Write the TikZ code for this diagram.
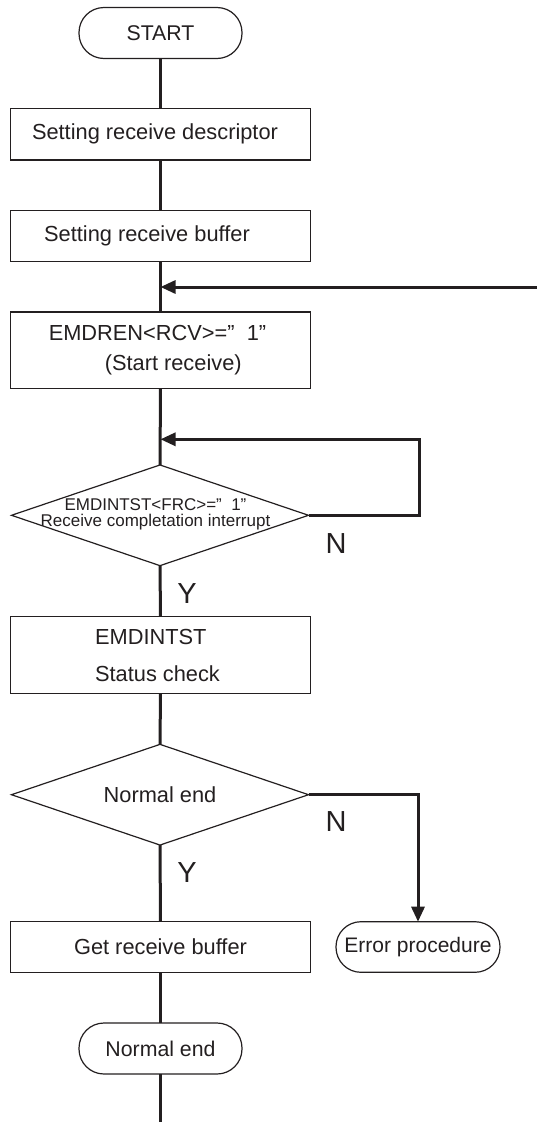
\documentclass[tikz,border=0pt]{standalone}
\usepackage{fontspec}
\setmainfont{Liberation Sans}
\usetikzlibrary{shapes.geometric,arrows.meta}
\definecolor{ink}{RGB}{35,31,32}
\begin{document}
\begin{tikzpicture}[x=1pt,y=-1pt,
  every node/.style={inner sep=0pt,outer sep=0pt},
  txt/.style={font=\fontsize{21.8}{25}\selectfont,text=ink},
  procbox/.style={draw=ink,line width=1.2pt,rectangle,minimum width=299.3pt},
  term/.style={draw=ink,line width=1.2pt,rectangle,rounded corners=25pt,minimum height=51pt,font=\fontsize{21.3}{25}\selectfont,text=ink},
  decide/.style={draw=ink,line width=1.2pt,diamond,minimum width=297pt,minimum height=100.7pt},
  flow/.style={draw=ink,line width=3pt},
  arr/.style={flow,-{Triangle[length=15pt,width=13pt]}},
  yn/.style={font=\fontsize{29}{32}\selectfont,text=ink}
]
\useasboundingbox (0,0) rectangle (537,1122);

\node[term,minimum width=163pt] (start) at (160.5,33) {START};
\node[procbox,minimum height=51.3pt,label={[txt,xshift=-5.5pt]center:Setting receive descriptor}] (b1) at (160.5,134.3) {};
\node[procbox,minimum height=51pt,label={[txt,xshift=-13.5pt]center:Setting receive buffer}] (b2) at (160.5,236.2) {};
\node[procbox,minimum height=76.7pt,label={[txt,align=left,font=\fontsize{21.8}{30}\selectfont,xshift=-3pt]center:EMDREN<RCV>=”\ \ 1”\\\hspace*{56pt}(Start receive)}] (b3) at (160.5,350.3) {};
\node[decide,label={[txt,align=center,font=\fontsize{17}{16}\selectfont,xshift=-4.5pt,yshift=1pt]center:EMDINTST<FRC>=”\ \ 1”\\Receive completation interrupt}] (d1) at (160,515.3) {};
\node[procbox,minimum height=76.6pt,label={[txt,align=left,font=\fontsize{21.8}{37}\selectfont,xshift=-3pt]center:EMDINTST\\Status check}] (b4) at (160.5,655) {};
\node[decide,label={[txt]center:Normal end}] (d2) at (160,794.7) {};
\node[procbox,minimum height=50.6pt,label={[txt]center:Get receive buffer}] (b5) at (160.5,947) {};
\node[term,minimum width=164pt,minimum height=50.6pt,font=\fontsize{21}{25}\selectfont] (err) at (418,947) {Error procedure};
\node[term,minimum width=163pt] (fin) at (160.5,1048.5) {Normal end};

\coordinate (in1) at (537,287);
\coordinate (j1) at (160.5,287);
\coordinate (j2) at (160.5,439.3);
\coordinate (r1) at (419,515.3);
\coordinate (r2) at (419,439.3);
\coordinate (bot) at (160.5,1122);

\draw[flow] (start.south) -- (b1.north);
\draw[flow] (b1.south) -- (b2.north);
\draw[flow] (b2.south) -- (b3.north);
\draw[arr] (in1) -- (j1);
\draw[flow] (b3.south) -- (d1.north);
\draw[arr] (d1.east) -- (r1) -- (r2) -- (j2);
\draw[flow] (d1.south) -- (b4.north);
\draw[flow] (b4.south) -- (d2.north);
\draw[arr] (d2.east) -| (err.north);
\draw[flow] (d2.south) -- (b5.north);
\draw[flow] (b5.south) -- (fin.north);
\draw[flow] (fin.south) -- (bot);

\node[yn] (n1) at (336,544) {N};
\node[yn] (y1) at (187,594) {Y};
\node[yn] (n2) at (336,822) {N};
\node[yn] (y2) at (187,873) {Y};
\end{tikzpicture}
\end{document}
